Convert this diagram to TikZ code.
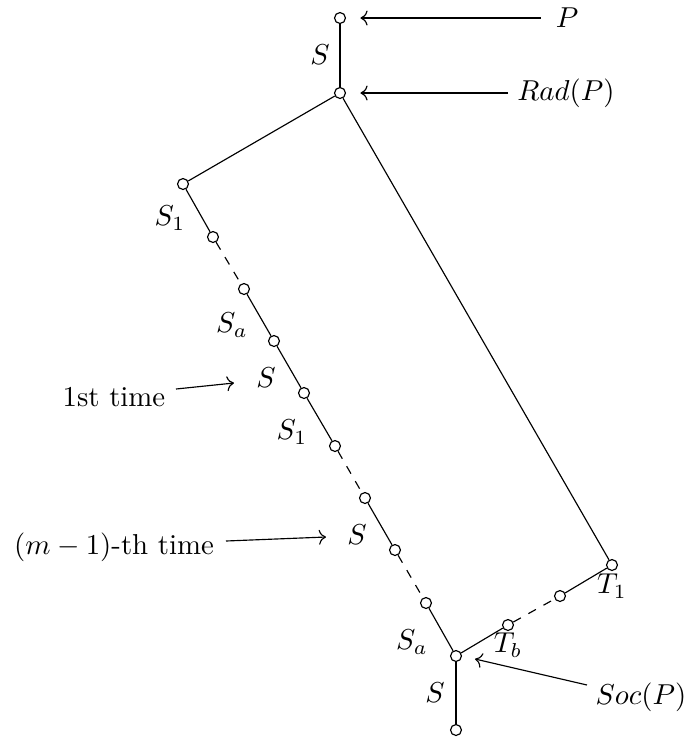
\documentclass[tikz,border=0pt]{standalone}
\usetikzlibrary{arrows.meta}
\begin{document}
\begin{tikzpicture}[x=0.3472pt,y=-0.3472pt,
  vtx/.style={circle,draw,fill=white,inner sep=0pt,minimum size=3.8pt,line width=0.4pt},
  edge/.style={line width=0.4pt},
  dedge/.style={line width=0.4pt,dashed},
  arr/.style={->,line width=0.4pt},
  lbl/.style={inner sep=0pt}]
\useasboundingbox (0,0) rectangle (688,738);
% vertices
\node[vtx] (p) at (340,18) {};
\node[vtx] (rad) at (340,93) {};
\node[vtx] (a1) at (183,184) {};
\node[vtx] (a2) at (213,237) {};
\node[vtx] (a3) at (244,289) {};
\node[vtx] (a4) at (274,341) {};
\node[vtx] (a5) at (304,393) {};
\node[vtx] (a6) at (335,446) {};
\node[vtx] (a7) at (365,498) {};
\node[vtx] (a8) at (395,550) {};
\node[vtx] (a9) at (426,603) {};
\node[vtx] (soc) at (456,656) {};
\node[vtx] (bot) at (456,730) {};
\node[vtx] (b1) at (508,625) {};
\node[vtx] (b2) at (560,596) {};
\node[vtx] (t1) at (612,565) {};
% edges
\draw[edge] (p) -- (rad);
\draw[edge] (rad) -- (a1);
\draw[edge] (rad) -- (t1);
\draw[edge] (a1) -- (a2);
\draw[dedge] (a2) -- (a3);
\draw[edge] (a3) -- (a4);
\draw[edge] (a4) -- (a5);
\draw[edge] (a5) -- (a6);
\draw[dedge] (a6) -- (a7);
\draw[edge] (a7) -- (a8);
\draw[dedge] (a8) -- (a9);
\draw[edge] (a9) -- (soc);
\draw[edge] (soc) -- (bot);
\draw[edge] (soc) -- (b1);
\draw[dedge] (b1) -- (b2);
\draw[edge] (b2) -- (t1);
% labels
\node[lbl] (ls0) at (320,55) {$S$};
\node[lbl] (lp) at (567,18) {$P$};
\node[lbl] (lrad) at (566,93) {$Rad(P)$};
\node[lbl] (ls1a) at (170,218) {$S_1$};
\node[lbl] (lsaa) at (232,325) {$S_a$};
\node[lbl] (ls1) at (266,378) {$S$};
\node[lbl] (ls1b) at (292,432) {$S_1$};
\node[lbl] (ls2) at (357,535) {$S$};
\node[lbl] (lsab) at (412,642) {$S_a$};
\node[lbl] (ltb) at (508,645) {$T_b$};
\node[lbl] (lt1) at (612,586) {$T_1$};
\node[lbl] (ls3) at (435,693) {$S$};
\node[lbl] (lsoc) at (641,697) {$Soc(P)$};
\node[lbl] (lfirst) at (114,397) {1st time};
\node[lbl] (lmth) at (114,547) {$(m-1)$-th time};
% arrows
\draw[arr,shorten >=5pt,shorten <=5pt] (lp.west) -- (p);
\draw[arr,shorten >=5pt,shorten <=3pt] (lrad.west) -- (rad);
\coordinate (f1) at (176,389);
\coordinate (f2) at (234,383);
\draw[arr] (f1) -- (f2);
\coordinate (m1) at (226,541);
\coordinate (m2) at (326,537);
\draw[arr] (m1) -- (m2);
\coordinate (s1) at (587,685);
\coordinate (s2) at (475,659);
\draw[arr] (s1) -- (s2);
\end{tikzpicture}
\end{document}
